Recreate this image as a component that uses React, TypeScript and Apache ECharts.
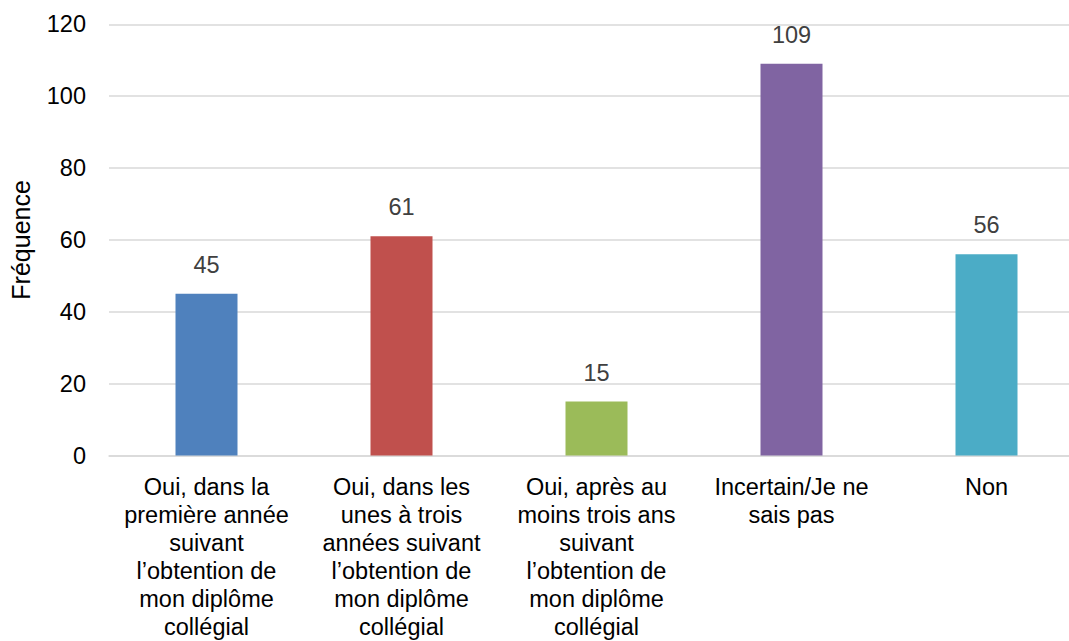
import React, { useEffect, useRef } from "react";
import * as echarts from "echarts";

const categories = [
  "Oui, dans la\npremière année\nsuivant\nl’obtention de\nmon diplôme\ncollégial",
  "Oui, dans les\nunes à trois\nannées suivant\nl’obtention de\nmon diplôme\ncollégial",
  "Oui, après au\nmoins trois ans\nsuivant\nl’obtention de\nmon diplôme\ncollégial",
  "Incertain/Je ne\nsais pas",
  "Non",
];
const values = [45, 61, 15, 109, 56];
const colors = ["#4f81bd", "#c0504d", "#9bbb59", "#8064a2", "#4bacc6"];
const yAxisName = "Fréquence";

const FONT = "'Liberation Sans', Arial, Helvetica, sans-serif";

export default function App() {
  const ref = useRef<HTMLDivElement>(null);
  useEffect(() => {
    document.body.style.margin = "0";
    const chart = echarts.init(ref.current!, undefined, { renderer: "svg" });
    chart.setOption({
      animation: false,
      textStyle: { fontFamily: FONT },
      grid: { left: 108, right: 16, top: 24.3, bottom: 185.5, containLabel: false },
      xAxis: {
        type: "category",
        data: categories,
        axisLine: { show: true, lineStyle: { color: "#d9d9d9", width: 1.5 } },
        axisTick: { show: false },
        axisLabel: {
          interval: 0,
          color: "#000000",
          fontSize: 23.5,
          lineHeight: 28,
          margin: 17,
          fontFamily: FONT,
          align: "center",
        },
      },
      yAxis: {
        type: "value",
        min: 0,
        max: 120,
        interval: 20,
        name: yAxisName,
        nameLocation: "middle",
        nameGap: 76,
        nameTextStyle: { color: "#000000", fontSize: 25, fontFamily: FONT },
        axisLine: { show: false },
        axisTick: { show: false },
        axisLabel: { color: "#000000", fontSize: 23.5, margin: 23, fontFamily: FONT },
        splitLine: { lineStyle: { color: "#d9d9d9", width: 1.5 } },
      },
      series: [
        {
          type: "bar",
          data: values.map((v, i) => ({ value: v, itemStyle: { color: colors[i] } })),
          barWidth: 62,
          label: {
            show: true,
            position: "top",
            distance: 17,
            color: "#404040",
            fontSize: 23.5,
            fontFamily: FONT,
          },
        },
      ],
    });
    return () => chart.dispose();
  }, []);
  return (
    <div style={{ width: 1069, height: 641, overflow: "hidden", position: "relative" }}>
      <div ref={ref} style={{ width: 1100, height: 641 }} />
    </div>
  );
}
